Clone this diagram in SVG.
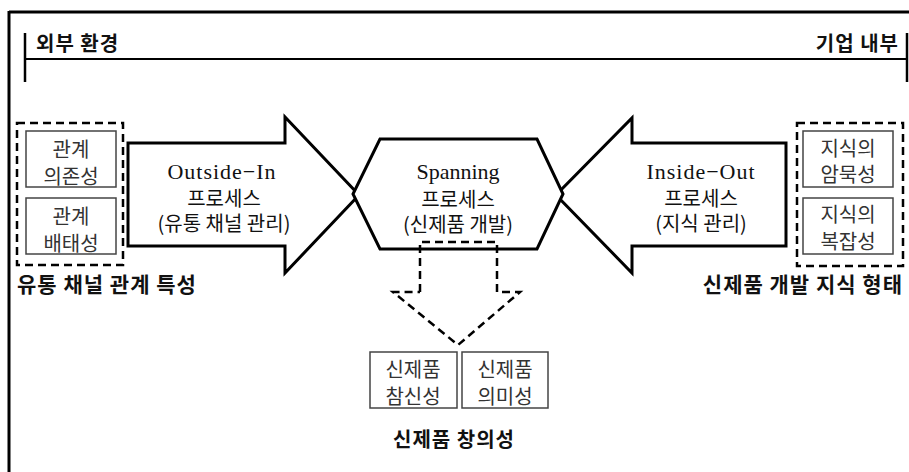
<svg xmlns="http://www.w3.org/2000/svg" width="909" height="472" viewBox="0 0 909 472">
<style>
text{font-family:"Liberation Serif","Noto Sans CJK KR",serif;fill:#111;dominant-baseline:central;text-anchor:middle}
.ko{font-family:"Noto Sans CJK KR","Noto Sans",sans-serif;font-size:20px}
.lab{font-family:"Noto Sans CJK KR",sans-serif;font-weight:bold;font-size:20px;letter-spacing:1px}
.inner{font-family:"Noto Sans CJK KR",sans-serif;font-size:20px;fill:#333}
.lat{font-size:22px}
.shape{fill:#fff;stroke:#000;stroke-width:3;stroke-linejoin:miter}
.dash{fill:none;stroke:#000;stroke-width:2.5;stroke-dasharray:8 5}
.box{fill:#fff;stroke:#444;stroke-width:1.5}
.frame{fill:none;stroke:#000}
</style>
<rect width="909" height="472" fill="#fff"/>
<g id="frame">
<line class="frame" x1="9" y1="12" x2="909" y2="12" stroke-width="3"/>
<line class="frame" x1="9" y1="11" x2="9" y2="472" stroke-width="3"/>
<line class="frame" x1="25" y1="59" x2="907" y2="59" stroke-width="2"/>
<line class="frame" x1="25" y1="33" x2="25" y2="82" stroke-width="2.5"/>
<line class="frame" x1="907" y1="33" x2="907" y2="82" stroke-width="2.5"/>
<text class="lab" x="36" y="42" style="text-anchor:start">외부 환경</text>
<text class="lab" x="899" y="42" style="text-anchor:end">기업 내부</text>
</g>
<g id="connectors">
<path class="shape" d="M128,143 H285 V117 L359,195 L285,273 V246 H128 Z"/>
<path class="shape" d="M786,143 H632 V118 L556,195 L632,273 V246 H786 Z"/>
<path class="shape" d="M380,139 H537 L563,194 L537,249 H380 L353,194 Z"/>
<path class="dash" d="M420,292 V242 H497 V292 H520 L458,345 L393,292 H420"/>
</g>
<g id="outside-in">
<text class="lat" x="222" y="171" style="letter-spacing:1px">Outside−In</text>
<text class="ko" x="224" y="197">프로세스</text>
<text class="ko" x="224" y="222">(유통 채널 관리)</text>
</g>
<g id="spanning">
<text class="lat" x="458" y="171">Spanning</text>
<text class="ko" x="458" y="198">프로세스</text>
<text class="ko" x="458" y="223">(신제품 개발)</text>
</g>
<g id="inside-out">
<text class="lat" x="701" y="171" style="letter-spacing:1px">Inside−Out</text>
<text class="ko" x="701" y="197">프로세스</text>
<text class="ko" x="701" y="222">(지식 관리)</text>
</g>
<g id="channel-relation">
<rect class="dash" x="17" y="123" width="106" height="142"/>
<rect class="box" x="26" y="131" width="90" height="56"/>
<text class="inner" x="71" y="148">관계</text>
<text class="inner" x="71" y="175">의존성</text>
<rect class="box" x="26" y="198" width="90" height="56"/>
<text class="inner" x="71" y="215">관계</text>
<text class="inner" x="71" y="242">배태성</text>
<text class="lab" x="17" y="283" style="text-anchor:start;font-size:21px">유통 채널 관계 특성</text>
</g>
<g id="knowledge-form">
<rect class="dash" x="797" y="123" width="106" height="143"/>
<rect class="box" x="803" y="131" width="90" height="56"/>
<text class="inner" x="848" y="147">지식의</text>
<text class="inner" x="848" y="173">암묵성</text>
<rect class="box" x="803" y="198" width="90" height="56"/>
<text class="inner" x="848" y="213">지식의</text>
<text class="inner" x="848" y="240">복잡성</text>
<text class="lab" x="903" y="283" style="text-anchor:end;font-size:21px">신제품 개발 지식 형태</text>
</g>
<g id="creativity">
<rect class="box" x="370" y="352" width="87" height="56"/>
<text class="inner" x="413" y="368">신제품</text>
<text class="inner" x="413" y="395">참신성</text>
<rect class="box" x="462" y="352" width="86" height="56"/>
<text class="inner" x="505" y="368">신제품</text>
<text class="inner" x="505" y="395">의미성</text>
<text class="lab" x="454" y="438">신제품 창의성</text>
</g>
</svg>
